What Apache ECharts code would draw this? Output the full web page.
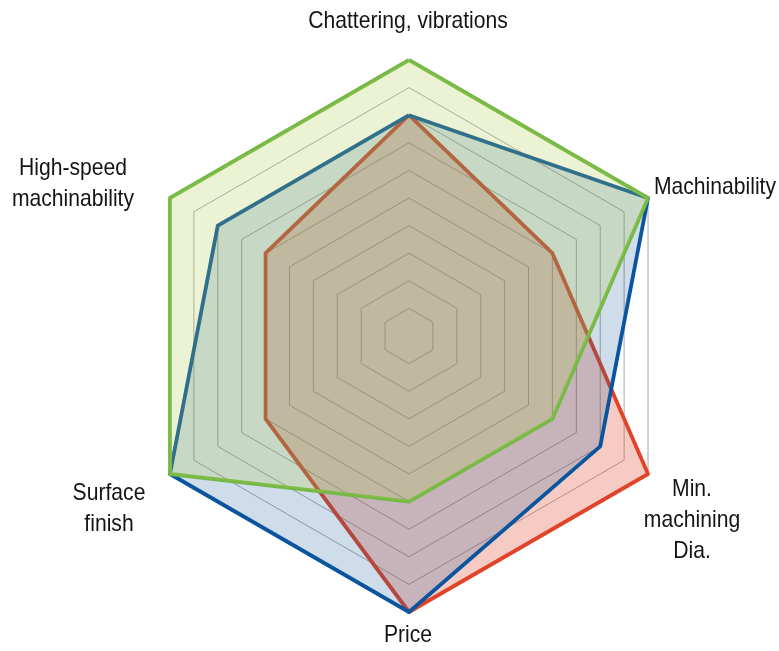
<!DOCTYPE html>
<html>
<head>
<meta charset="utf-8">
<script src="https://cdn.jsdelivr.net/npm/echarts@6/dist/echarts.min.js"></script>
<style>
  html, body { margin: 0; padding: 0; background: #fff; }
  #chart { width: 779px; height: 651px; }
</style>
</head>
<body>
<div id="chart"></div>
<script>
// Axes, listed counter-clockwise from the top
const categories = [
  'Chattering, vibrations',
  'High-speed\nmachinability',
  'Surface\nfinish',
  'Price',
  'Min.\nmachining\nDia.',
  'Machinability'
];
const scaleMax = 10;

// Scores on a 0-10 scale, same order as categories
const redValues   = [8, 6, 6, 10, 10, 6];
const blueValues  = [8, 8, 10, 10, 8, 10];
const greenValues = [10, 10, 10, 6, 6, 10];

// Label anchors (centre of each text block)
const labelAnchors = [
  [408, 21],
  [73, 184],
  [109, 509],
  [408, 635],
  [692, 520],
  [715, 187]
];

const font = '"Liberation Sans", Arial, sans-serif';
const chart = echarts.init(document.getElementById('chart'), null, { renderer: 'canvas' });

chart.setOption({
  animation: false,
  backgroundColor: '#ffffff',
  radar: {
    center: [409, 336],
    radius: 276,
    startAngle: 90,
    splitNumber: 10,
    shape: 'polygon',
    indicator: categories.map(n => ({ name: n, min: 0, max: scaleMax })),
    axisName: { show: false },
    axisLine: { show: false },
    axisTick: { show: false },
    axisLabel: { show: false },
    splitArea: { show: false },
    splitLine: { lineStyle: { color: '#a9a9a9', width: 1 } }
  },
  series: [
    {
      type: 'radar',
      symbol: 'none',
      z: 2,
      data: [{
        value: redValues,
        lineStyle: { color: '#e0452a', width: 3.8 },
        areaStyle: { color: 'rgba(224,69,42,0.28)', opacity: 1 }
      }]
    },
    {
      type: 'radar',
      symbol: 'none',
      z: 3,
      data: [{
        value: blueValues,
        lineStyle: { color: '#0a55a0', width: 3.8 },
        areaStyle: { color: 'rgba(15,85,150,0.2)', opacity: 1 }
      }]
    },
    {
      type: 'radar',
      symbol: 'none',
      z: 4,
      data: [{
        value: greenValues,
        lineStyle: { color: '#74b946', width: 3.8 },
        areaStyle: { color: 'rgba(172,203,72,0.23)', opacity: 1 }
      }]
    }
  ],
  graphic: categories.map((name, i) => ({
    type: 'text',
    x: labelAnchors[i][0],
    y: labelAnchors[i][1],
    scaleX: 0.88,
    style: {
      text: name,
      align: 'center',
      verticalAlign: 'middle',
      lineHeight: 31,
      fill: '#141414',
      font: '24px ' + font
    }
  }))
});
</script>
</body>
</html>
